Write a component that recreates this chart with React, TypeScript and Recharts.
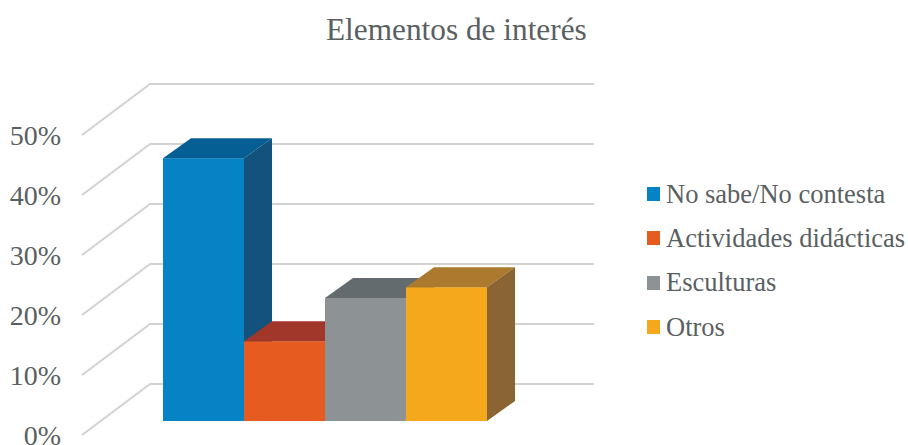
import { BarChart, Bar, XAxis, YAxis, Legend, CartesianGrid } from "recharts";

const categories = ["Elementos"];
const seriesNames = ["No sabe/No contesta", "Actividades didácticas", "Esculturas", "Otros"];
const seriesValues = [43.8, 13.3, 20.5, 22.3];
const frontColors = ["#0583c4", "#e65b20", "#8d9295", "#f5a81c"];
const topColors = ["#055f94", "#a0372a", "#646b6e", "#ab7a2e"];
const sideColors = ["#13527c", "#8f3a20", "#5f6568", "#8a6432"];
const yTicks = [0, 10, 20, 30, 40, 50];

const data = categories.map((name) => {
  const row: Record<string, string | number> = { name };
  seriesNames.forEach((s, i) => {
    row[s] = seriesValues[i];
  });
  return row;
});

const FONT = "'Liberation Serif', serif";
const TEXT = "#5a5f62";
const DEPTH_X = 28;
const DEPTH_Y = 20;

function Box3D({ x, y, width, height, index }: any) {
  const i = index;
  return (
    <g>
      <rect x={x} y={y} width={width} height={height} fill={frontColors[i]} />
      <polygon
        points={`${x},${y} ${x + DEPTH_X},${y - DEPTH_Y} ${x + width + DEPTH_X},${y - DEPTH_Y} ${x + width},${y}`}
        fill={topColors[i]}
      />
      <polygon
        points={`${x + width},${y} ${x + width + DEPTH_X},${y - DEPTH_Y} ${x + width + DEPTH_X},${y + height - DEPTH_Y} ${x + width},${y + height}`}
        fill={sideColors[i]}
      />
    </g>
  );
}

// back wall line plus the floor diagonal, shifted from the front plane
function wallLine({ y1, index }: any) {
  const backY = y1 - 37;
  return (
    <polyline
      key={index}
      points={`82,${y1 + 14} 150,${backY} 594,${backY}`}
      fill="none"
      stroke="#d2d2d2"
      strokeWidth={2}
    />
  );
}

function PercentTick({ y, payload }: any) {
  return (
    <text x={61} y={y + 24} textAnchor="end" fontFamily={FONT} fontSize={28} fill={TEXT}>
      {payload.value}%
    </text>
  );
}

function LegendList({ payload }: any) {
  return (
    <div>
      {(payload || []).map((p: any) => (
        <div key={p.value} style={{ display: "flex", alignItems: "center", height: 44.3 }}>
          <span style={{ width: 13, height: 14, background: p.color, marginRight: 6, flex: "none" }} />
          <span style={{ fontFamily: FONT, fontSize: 26.5, color: TEXT, whiteSpace: "nowrap" }}>{p.value}</span>
        </div>
      ))}
    </div>
  );
}

export default function App() {
  return (
    <div style={{ position: "absolute", left: 0, top: 0, width: 908, height: 445, background: "#fff", overflow: "hidden" }}>
      <div
        style={{
          position: "absolute",
          left: 326,
          top: 12,
          fontFamily: FONT,
          fontSize: 31.3,
          color: TEXT,
          whiteSpace: "nowrap",
        }}
      >
        Elementos de interés
      </div>
      <BarChart
        width={908}
        height={445}
        data={data}
        barCategoryGap={0}
        barGap={0}
        margin={{ top: 121, right: 423, bottom: 24, left: 162 }}
      >
        <CartesianGrid vertical={false} horizontal={wallLine} />
        <XAxis dataKey="name" hide />
        <YAxis
          width={1}
          domain={[0, 50]}
          ticks={yTicks}
          interval={0}
          axisLine={false}
          tickLine={false}
          tick={<PercentTick />}
        />
        <Legend
          layout="vertical"
          align="center"
          verticalAlign="middle"
          itemSorter={null}
          content={<LegendList />}
          wrapperStyle={{ left: 647, top: 172, width: 261 }}
        />
        {seriesNames.map((s, i) => (
          <Bar
            key={s}
            dataKey={s}
            fill={frontColors[i]}
            isAnimationActive={false}
            shape={(props: any) => <Box3D {...props} index={i} />}
          />
        ))}
      </BarChart>
    </div>
  );
}
